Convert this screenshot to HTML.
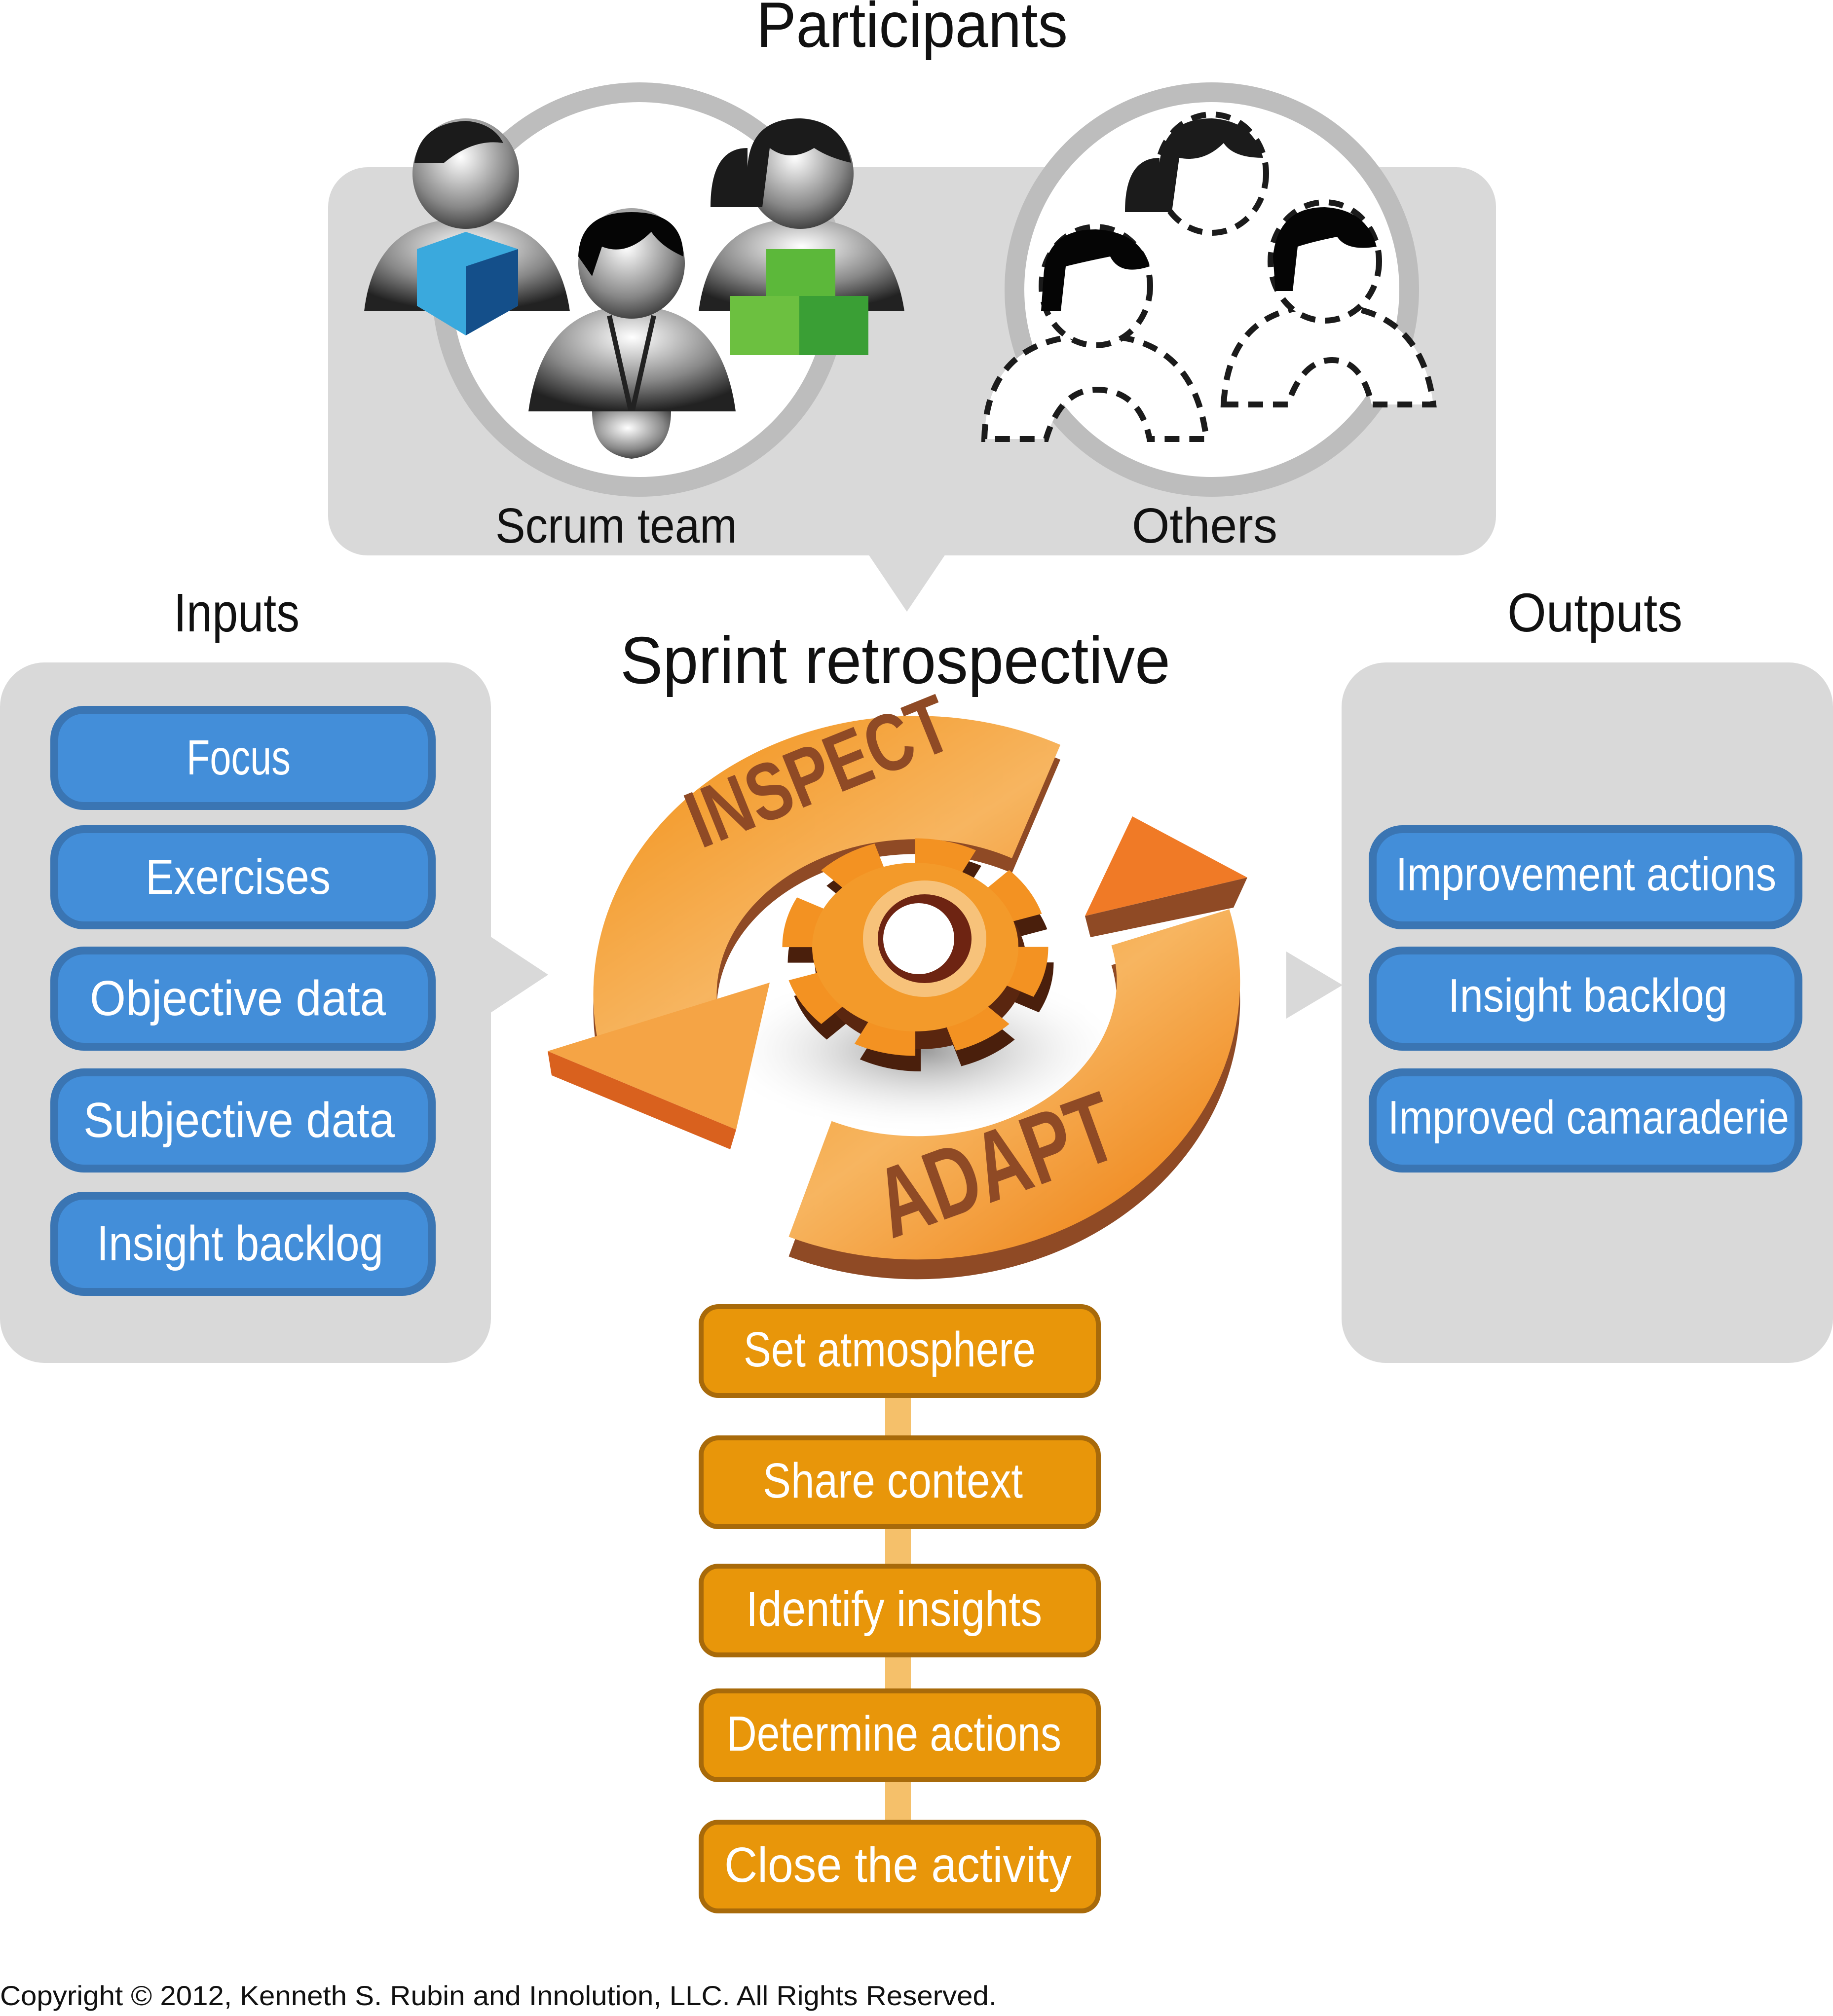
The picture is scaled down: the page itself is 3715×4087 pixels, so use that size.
<!DOCTYPE html>
<html><head><meta charset="utf-8"><style>
html,body{margin:0;padding:0;background:#fff;}
svg{display:block}
</style></head><body>
<svg width="3715" height="4087" viewBox="0 0 3715 4087" xmlns="http://www.w3.org/2000/svg" font-family="'Liberation Sans', sans-serif">
<defs>
<radialGradient id="gb" cx="0.5" cy="0.3" r="0.7"><stop offset="0" stop-color="#fff"/><stop offset="0.6" stop-color="#888"/><stop offset="1" stop-color="#222"/></radialGradient>
<radialGradient id="gh" cx="0.45" cy="0.35" r="0.65"><stop offset="0" stop-color="#fff"/><stop offset="0.7" stop-color="#888"/><stop offset="1" stop-color="#444"/></radialGradient>
<linearGradient id="go" x1="0" y1="0" x2="1" y2="1"><stop offset="0" stop-color="#f39a2a"/><stop offset="0.5" stop-color="#f7b560"/><stop offset="1" stop-color="#f08a20"/></linearGradient>
<radialGradient id="shadow" cx="0.5" cy="0.5" r="0.5"><stop offset="0" stop-color="#999"/><stop offset="1" stop-color="#fff" stop-opacity="0"/></radialGradient>
</defs>

<text x="1533" y="95" font-size="130" textLength="631" lengthAdjust="spacingAndGlyphs" fill="#111">Participants</text>
<rect x="665" y="339" width="2367" height="787" rx="80" fill="#d9d9d9"/>
<polygon points="1760,1124 1916,1124 1838,1240" fill="#d9d9d9"/>
<circle cx="1296" cy="587" r="400" fill="#fff" stroke="#bdbdbd" stroke-width="40"/>
<circle cx="2456" cy="587" r="400" fill="#fff" stroke="#bdbdbd" stroke-width="40"/>

<path d="M738,631 Q760,443 944,443 Q1128,443 1155,631 Z" fill="url(#gb)"/>
<ellipse cx="944" cy="352" rx="108" ry="112" fill="url(#gh)"/>
<path d="M840,330 Q850,250 944,245 Q1000,250 1020,290 Q960,280 900,330 Z" fill="#1b1b1b"/>
<polygon points="845,505 944,470 1050,505 1050,620 944,680 845,620" fill="#3aa9dd"/>
<polygon points="944,540 1050,505 1050,620 944,680" fill="#144f8a"/>
<path d="M1416,631 Q1440,443 1622,443 Q1805,443 1833,631 Z" fill="url(#gb)"/>
<ellipse cx="1622" cy="352" rx="108" ry="112" fill="url(#gh)"/>
<path d="M1515,340 Q1520,240 1622,240 Q1710,245 1725,330 Q1680,320 1650,300 Q1600,330 1560,300 L1545,420 L1440,420 Q1440,300 1515,300 Z" fill="#1b1b1b"/>
<rect x="1553" y="505" width="140" height="120" fill="#5cb83a"/>
<rect x="1480" y="600" width="140" height="120" fill="#6cc040"/>
<rect x="1620" y="600" width="140" height="120" fill="#3a9f35"/>
<path d="M1071,834 Q1100,620 1280,620 Q1462,620 1491,834 Z" fill="url(#gb)"/>
<ellipse cx="1280" cy="534" rx="108" ry="112" fill="url(#gh)"/>
<path d="M1172,520 Q1175,430 1280,430 Q1385,430 1385,520 Q1340,500 1320,470 Q1270,520 1220,500 L1200,560 Z" fill="#050505"/>
<path d="M1235,640 L1280,840 L1325,640" fill="none" stroke="#222" stroke-width="10"/>
<path d="M1200,834 Q1200,920 1280,930 Q1360,920 1360,834 Z" fill="url(#gh)"/>

<g fill="#fff" stroke="#1b1b1b" stroke-width="12" stroke-dasharray="30,20">
<path d="M2480,820 Q2490,620 2685,620 Q2880,620 2905,820 L2780,820 Q2760,730 2700,730 Q2640,730 2610,820 Z"/>
<path d="M1995,890 Q2000,680 2221,680 Q2420,680 2445,890 L2330,890 Q2310,790 2221,790 Q2150,790 2120,890 Z"/>
<ellipse cx="2456" cy="352" rx="110" ry="120"/>
<ellipse cx="2221" cy="580" rx="110" ry="120"/>
<ellipse cx="2685" cy="530" rx="110" ry="120"/>
</g>
<path d="M2350,330 Q2360,240 2456,240 Q2540,245 2560,320 Q2500,320 2480,290 Q2440,330 2390,320 L2375,430 L2280,430 Q2280,320 2350,320 Z" fill="#1b1b1b"/>
<path d="M2115,560 Q2120,465 2221,465 Q2310,470 2330,540 Q2270,560 2250,520 Q2200,530 2160,540 L2150,630 L2110,630 Z" fill="#050505"/>
<path d="M2580,520 Q2590,420 2685,420 Q2770,425 2790,500 Q2730,510 2710,480 Q2660,490 2630,500 L2620,590 L2585,590 Z" fill="#050505"/>

<text x="1004" y="1100" font-size="100" textLength="490" lengthAdjust="spacingAndGlyphs" fill="#111">Scrum team</text>
<text x="2294" y="1100" font-size="100" textLength="295" lengthAdjust="spacingAndGlyphs" fill="#111">Others</text>

<text x="352" y="1280" font-size="110" textLength="255" lengthAdjust="spacingAndGlyphs" fill="#111">Inputs</text>
<rect x="0" y="1343" width="995" height="1420" rx="90" fill="#d9d9d9"/>
<polygon points="993,1898 1111,1976 993,2054" fill="#d9d9d9"/>
<g font-size="100" fill="#fff">
<rect x="110" y="1439" width="765" height="195" rx="60" fill="#438ed9" stroke="#3a75b3" stroke-width="16"/><text x="378" y="1570" textLength="211" lengthAdjust="spacingAndGlyphs">Focus</text>
<rect x="110" y="1681" width="765" height="195" rx="60" fill="#438ed9" stroke="#3a75b3" stroke-width="16"/><text x="295" y="1812" textLength="375" lengthAdjust="spacingAndGlyphs">Exercises</text>
<rect x="110" y="1927" width="765" height="195" rx="60" fill="#438ed9" stroke="#3a75b3" stroke-width="16"/><text x="182" y="2058" textLength="600" lengthAdjust="spacingAndGlyphs">Objective data</text>
<rect x="110" y="2174" width="765" height="195" rx="60" fill="#438ed9" stroke="#3a75b3" stroke-width="16"/><text x="169" y="2305" textLength="631" lengthAdjust="spacingAndGlyphs">Subjective data</text>
<rect x="110" y="2424" width="765" height="195" rx="60" fill="#438ed9" stroke="#3a75b3" stroke-width="16"/><text x="196" y="2555" textLength="581" lengthAdjust="spacingAndGlyphs">Insight backlog</text>
</g>

<text x="3055" y="1280" font-size="110" textLength="355" lengthAdjust="spacingAndGlyphs" fill="#111">Outputs</text>
<rect x="2719" y="1343" width="996" height="1420" rx="90" fill="#d9d9d9"/>
<polygon points="2607,1929 2721,1997 2607,2065" fill="#d9d9d9"/>
<g font-size="96" fill="#fff">
<rect x="2782" y="1681" width="863" height="195" rx="60" fill="#438ed9" stroke="#3a75b3" stroke-width="16"/><text x="2829" y="1805" textLength="771" lengthAdjust="spacingAndGlyphs">Improvement actions</text>
<rect x="2782" y="1927" width="863" height="195" rx="60" fill="#438ed9" stroke="#3a75b3" stroke-width="16"/><text x="2935" y="2051" textLength="566" lengthAdjust="spacingAndGlyphs">Insight backlog</text>
<rect x="2782" y="2174" width="863" height="195" rx="60" fill="#438ed9" stroke="#3a75b3" stroke-width="16"/><text x="2813" y="2298" textLength="813" lengthAdjust="spacingAndGlyphs">Improved camaraderie</text>
</g>

<text x="1257" y="1385" font-size="135" textLength="1115" lengthAdjust="spacingAndGlyphs" fill="#111">Sprint retrospective</text>

<ellipse cx="1870" cy="2130" rx="420" ry="170" fill="url(#shadow)"/>
<path d="M2100,1625 A530,440 0 0 0 1335,2090" fill="none" stroke="#8f4a25" stroke-width="250" transform="translate(0,30)"/>
<path d="M2100,1625 A530,440 0 0 0 1335,2090" fill="none" stroke="url(#go)" stroke-width="250"/>
<polygon points="1110,2131 1560,1992 1492,2290" fill="#f5a445"/>
<polygon points="1110,2131 1492,2290 1480,2330 1118,2180" fill="#d9611e"/>
<path d="M1642,2390 A530,440 0 0 0 2372,1880" fill="none" stroke="#8f4a25" stroke-width="250" transform="translate(0,40)"/>
<path d="M1642,2390 A530,440 0 0 0 2372,1880" fill="none" stroke="url(#go)" stroke-width="250"/>
<polygon points="2295,1655 2199,1857 2528,1779" fill="#f07a26"/>
<polygon points="2199,1857 2528,1779 2500,1840 2210,1900" fill="#8f4a25"/>
<text x="1661" y="1620" font-size="165" font-weight="bold" fill="#8f4a25" text-anchor="middle" textLength="560" lengthAdjust="spacingAndGlyphs" transform="rotate(-22 1661 1570)">INSPECT</text>
<text x="2020" y="2430" font-size="200" font-weight="bold" fill="#8f4a25" text-anchor="middle" textLength="500" lengthAdjust="spacingAndGlyphs" transform="rotate(-20 2020 2367)">ADAPT</text>
<g transform="translate(1855,1920) scale(1.1,0.9)">
<circle cx="10" cy="35" r="200" fill="none" stroke="#4a1f0c" stroke-width="90" stroke-dasharray="95,62"/>
<circle cx="10" cy="35" r="195" fill="#5a260f"/>
<circle cx="0" cy="0" r="200" fill="none" stroke="#f39222" stroke-width="90" stroke-dasharray="95,62"/>
<circle cx="0" cy="0" r="190" fill="#f39a2a"/>
</g>
<ellipse cx="1874" cy="1903" rx="125" ry="118" fill="#f7c27a"/>
<ellipse cx="1874" cy="1903" rx="95" ry="90" fill="#6e2412"/>
<ellipse cx="1862" cy="1903" rx="72" ry="72" fill="#fff"/>

<rect x="1794" y="2829" width="52" height="900" fill="#f5c06a"/>
<g font-size="100" fill="#fff">
<rect x="1421" y="2649" width="805" height="180" rx="35" fill="#e8960a" stroke="#a86a0a" stroke-width="10"/><text x="1507" y="2770" textLength="592" lengthAdjust="spacingAndGlyphs">Set atmosphere</text>
<rect x="1421" y="2915" width="805" height="180" rx="35" fill="#e8960a" stroke="#a86a0a" stroke-width="10"/><text x="1546" y="3036" textLength="527" lengthAdjust="spacingAndGlyphs">Share context</text>
<rect x="1421" y="3175" width="805" height="180" rx="35" fill="#e8960a" stroke="#a86a0a" stroke-width="10"/><text x="1512" y="3296" textLength="600" lengthAdjust="spacingAndGlyphs">Identify insights</text>
<rect x="1421" y="3428" width="805" height="180" rx="35" fill="#e8960a" stroke="#a86a0a" stroke-width="10"/><text x="1473" y="3549" textLength="678" lengthAdjust="spacingAndGlyphs">Determine actions</text>
<rect x="1421" y="3694" width="805" height="180" rx="35" fill="#e8960a" stroke="#a86a0a" stroke-width="10"/><text x="1468" y="3815" textLength="704" lengthAdjust="spacingAndGlyphs">Close the activity</text>
</g>

<text x="0" y="4065" font-size="56" textLength="2020" lengthAdjust="spacingAndGlyphs" fill="#111">Copyright © 2012, Kenneth S. Rubin and Innolution, LLC. All Rights Reserved.</text>
</svg>
</body></html>
